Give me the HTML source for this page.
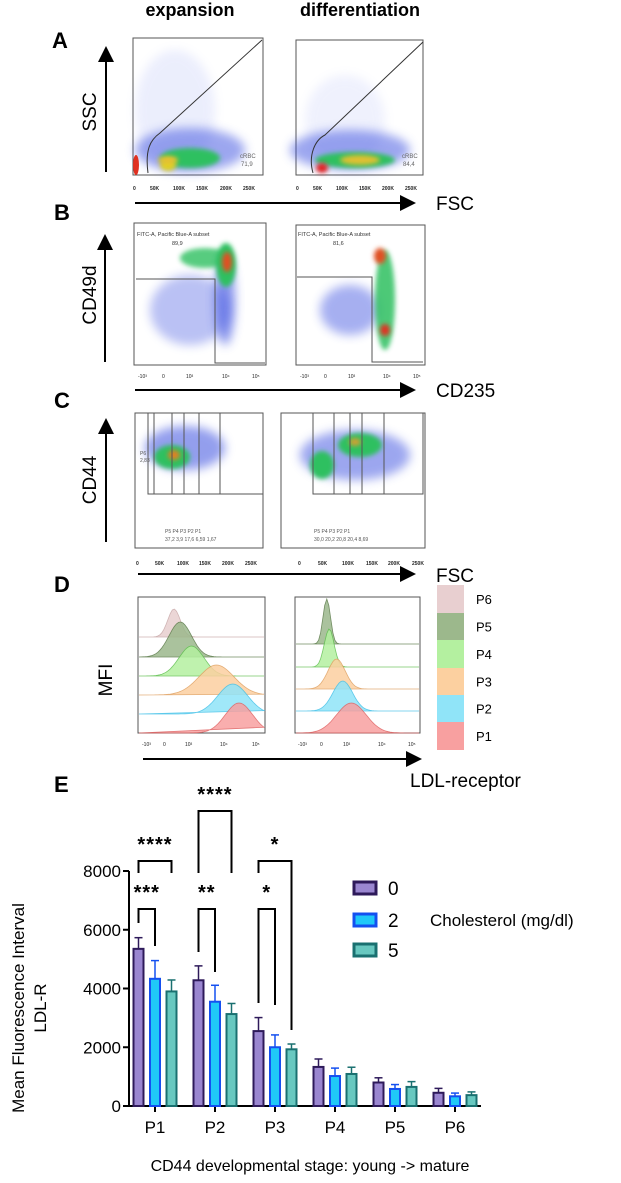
<!DOCTYPE html>
<html><head><meta charset="utf-8"><style>
html,body{margin:0;padding:0;background:#fff}
svg{display:block;font-family:"Liberation Sans",sans-serif}
</style></head><body>
<svg id="fig" width="621" height="1183" viewBox="0 0 621 1183">
<defs>
<filter id="bl" x="-50%" y="-50%" width="200%" height="200%"><feGaussianBlur stdDeviation="5"/></filter>
<filter id="bl2" x="-50%" y="-50%" width="200%" height="200%"><feGaussianBlur stdDeviation="2.5"/></filter>
<marker id="ah" markerWidth="8" markerHeight="8" refX="6" refY="4" orient="auto"><path d="M0,0 L8,4 L0,8z" fill="#000"/></marker>
</defs>
<g font-weight="bold" font-size="18">
<text x="190" y="16" text-anchor="middle">expansion</text>
<text x="360" y="16" text-anchor="middle">differentiation</text>
<text x="52" y="48" font-size="22">A</text>
<text x="54" y="220" font-size="22">B</text>
<text x="54" y="408" font-size="22">C</text>
<text x="54" y="592" font-size="22">D</text>
<text x="54" y="792" font-size="22">E</text>
</g>
<!-- Panel A -->
<g>
<text transform="translate(96,112) rotate(-90)" text-anchor="middle" font-size="19">SSC</text>
<line x1="106" y1="172" x2="106" y2="50" stroke="#000" stroke-width="2" marker-end="url(#ah)"/>
<line x1="135" y1="203" x2="412" y2="203" stroke="#000" stroke-width="2" marker-end="url(#ah)"/>
<text x="436" y="210" font-size="19">FSC</text>
<g>
<rect x="133" y="38" width="130" height="137" fill="#fff" stroke="#555"/>
<ellipse cx="175" cy="110" rx="40" ry="60" fill="#8090f0" opacity="0.15" filter="url(#bl)"/>
<ellipse cx="190" cy="150" rx="55" ry="22" fill="#3a50e0" opacity="0.5" filter="url(#bl)"/>
<ellipse cx="190" cy="158" rx="30" ry="10" fill="#2ec060" filter="url(#bl2)"/>
<ellipse cx="168" cy="165" rx="8" ry="6" fill="#e0d020" filter="url(#bl2)"/>
<ellipse cx="168" cy="160" rx="10" ry="4" fill="#e8c030" filter="url(#bl2)"/>
<ellipse cx="136" cy="165" rx="3" ry="10" fill="#e03020"/>
<path d="M148,173 C145,150 150,140 160,133 L262,40" fill="none" stroke="#333"/>
<text x="240" y="158" font-size="6" fill="#666">cRBC</text><text x="241" y="166" font-size="6" fill="#666">71,9</text>
</g>
<g>
<rect x="296" y="40" width="127" height="135" fill="#fff" stroke="#555"/>
<ellipse cx="345" cy="120" rx="40" ry="45" fill="#8090f0" opacity="0.12" filter="url(#bl)"/>
<ellipse cx="350" cy="150" rx="60" ry="20" fill="#3a50e0" opacity="0.5" filter="url(#bl)"/>
<ellipse cx="355" cy="160" rx="40" ry="8" fill="#2ec060" filter="url(#bl2)"/>
<ellipse cx="360" cy="160" rx="20" ry="5" fill="#e0c030" filter="url(#bl2)"/>
<ellipse cx="322" cy="168" rx="6" ry="5" fill="#e02020" filter="url(#bl2)"/>
<path d="M313,173 C308,155 315,140 325,135 L423,42" fill="none" stroke="#333"/>
<text x="402" y="158" font-size="6" fill="#666">cRBC</text><text x="403" y="166" font-size="6" fill="#666">84,4</text>
</g>
<g font-size="5" fill="#222" font-weight="bold">
<text x="133" y="190">0</text><text x="150" y="190">50K</text><text x="173" y="190">100K</text><text x="196" y="190">150K</text><text x="220" y="190">200K</text><text x="243" y="190">250K</text>
<text x="296" y="190">0</text><text x="313" y="190">50K</text><text x="336" y="190">100K</text><text x="359" y="190">150K</text><text x="382" y="190">200K</text><text x="405" y="190">250K</text>
</g>
</g>
<!-- Panel B -->
<g>
<text transform="translate(96,295) rotate(-90)" text-anchor="middle" font-size="19">CD49d</text>
<line x1="105" y1="362" x2="105" y2="238" stroke="#000" stroke-width="2" marker-end="url(#ah)"/>
<line x1="135" y1="390" x2="412" y2="390" stroke="#000" stroke-width="2" marker-end="url(#ah)"/>
<text x="436" y="397" font-size="19">CD235</text>
<g>
<rect x="134" y="223" width="132" height="142" fill="#fff" stroke="#555"/>
<ellipse cx="190" cy="310" rx="40" ry="35" fill="#3a50e0" opacity="0.35" filter="url(#bl)"/>
<ellipse cx="225" cy="300" rx="10" ry="45" fill="#3a50e0" opacity="0.6" filter="url(#bl)"/>
<ellipse cx="205" cy="258" rx="25" ry="10" fill="#2ec060" opacity="0.8" filter="url(#bl2)"/>
<ellipse cx="226" cy="265" rx="10" ry="22" fill="#2ec060" filter="url(#bl2)"/>
<ellipse cx="227" cy="262" rx="5" ry="10" fill="#e05020" filter="url(#bl2)"/>
<path d="M136,279 L215,279 L215,363 L265,363" fill="none" stroke="#555"/>
<text x="137" y="236" font-size="5.5" fill="#333">FITC-A, Pacific Blue-A subset</text><text x="172" y="245" font-size="5.5" fill="#333">89,9</text>
</g>
<g>
<rect x="296" y="225" width="129" height="140" fill="#fff" stroke="#555"/>
<ellipse cx="350" cy="310" rx="30" ry="25" fill="#3a50e0" opacity="0.45" filter="url(#bl)"/>
<ellipse cx="385" cy="300" rx="10" ry="50" fill="#2ec060" opacity="0.85" filter="url(#bl2)"/>
<ellipse cx="380" cy="256" rx="6" ry="8" fill="#e05020" filter="url(#bl2)"/>
<ellipse cx="385" cy="330" rx="5" ry="6" fill="#e03020" filter="url(#bl2)"/>
<path d="M297,277 L372,277 L372,362 L423,362" fill="none" stroke="#555"/>
<text x="298" y="236" font-size="5.5" fill="#333">FITC-A, Pacific Blue-A subset</text><text x="333" y="245" font-size="5.5" fill="#333">81,6</text>
</g>
<g font-size="5" fill="#222"><text x="138" y="378">-10³</text><text x="162" y="378">0</text><text x="186" y="378">10³</text><text x="222" y="378">10⁴</text><text x="252" y="378">10⁵</text>
<text x="300" y="378">-10³</text><text x="324" y="378">0</text><text x="348" y="378">10³</text><text x="383" y="378">10⁴</text><text x="413" y="378">10⁵</text></g>
</g>
<!-- Panel C -->
<g>
<text transform="translate(96,480) rotate(-90)" text-anchor="middle" font-size="19">CD44</text>
<line x1="106" y1="542" x2="106" y2="422" stroke="#000" stroke-width="2" marker-end="url(#ah)"/>
<line x1="138" y1="574" x2="412" y2="574" stroke="#000" stroke-width="2" marker-end="url(#ah)"/>
<text x="436" y="582" font-size="19">FSC</text>
<g>
<rect x="135" y="413" width="128" height="135" fill="#fff" stroke="#555"/>
<ellipse cx="185" cy="448" rx="40" ry="22" fill="#3a50e0" opacity="0.55" filter="url(#bl)"/>
<ellipse cx="172" cy="457" rx="18" ry="12" fill="#2ec060" filter="url(#bl2)"/>
<ellipse cx="174" cy="455" rx="6" ry="5" fill="#e08020" filter="url(#bl2)"/>
<path d="M148,413 V494 H263 M154,413 V494 M172,413 V494 M184,413 V494 M199,413 V494 M220,413 V494 M148,413 H263" fill="none" stroke="#555"/>
<text x="140" y="455" font-size="5" fill="#555">P6</text><text x="140" y="462" font-size="5" fill="#555">2,83</text>
<text x="165" y="533" font-size="5" fill="#555">P5  P4   P3    P2          P1</text>
<text x="165" y="541" font-size="5" fill="#555">37,2 3,9 17,6  6,59       1,67</text>
</g>
<g>
<rect x="281" y="413" width="144" height="135" fill="#fff" stroke="#555"/>
<ellipse cx="355" cy="455" rx="55" ry="25" fill="#3a50e0" opacity="0.5" filter="url(#bl)"/>
<ellipse cx="322" cy="465" rx="12" ry="14" fill="#2ec060" filter="url(#bl2)"/>
<ellipse cx="360" cy="445" rx="22" ry="12" fill="#2ec060" filter="url(#bl2)"/>
<ellipse cx="355" cy="442" rx="6" ry="4" fill="#d0a030" filter="url(#bl2)"/>
<path d="M313,413 V494 H423 V413 H313 M334,413 V494 M350,413 V494 M362,413 V494 M384,413 V494" fill="none" stroke="#555"/>
<text x="314" y="533" font-size="5" fill="#555">P5        P4     P3    P2          P1</text>
<text x="314" y="541" font-size="5" fill="#555">30,0     20,2  20,8  20,4        8,69</text>
</g>
<g font-size="5" fill="#222" font-weight="bold"><text x="136" y="565">0</text><text x="155" y="565">50K</text><text x="177" y="565">100K</text><text x="199" y="565">150K</text><text x="222" y="565">200K</text><text x="245" y="565">250K</text>
<text x="298" y="565">0</text><text x="318" y="565">50K</text><text x="342" y="565">100K</text><text x="366" y="565">150K</text><text x="388" y="565">200K</text><text x="412" y="565">250K</text></g>
</g>
<!-- Panel D -->
<g>
<text transform="translate(112,680) rotate(-90)" text-anchor="middle" font-size="19">MFI</text>
<line x1="143" y1="759" x2="418" y2="759" stroke="#000" stroke-width="2" marker-end="url(#ah)"/>
<text x="410" y="787" font-size="19">LDL-receptor</text>
<rect x="138" y="597" width="127" height="136" fill="#fff" stroke="#555"/>
<rect x="295" y="597" width="125" height="136" fill="#fff" stroke="#555"/>
<g id="hists"></g>
<g font-size="5" fill="#222"><text x="142" y="746">-10³</text><text x="163" y="746">0</text><text x="185" y="746">10³</text><text x="220" y="746">10⁴</text><text x="252" y="746">10⁵</text>
<text x="298" y="746">-10³</text><text x="320" y="746">0</text><text x="343" y="746">10³</text><text x="378" y="746">10⁴</text><text x="408" y="746">10⁵</text></g>
<g id="dleg"></g>
</g>
<!-- Panel E -->
<g id="chart">
<text transform="translate(24,1008) rotate(-90)" text-anchor="middle" font-size="17">Mean Fluorescence Interval</text>
<text transform="translate(46,1008) rotate(-90)" text-anchor="middle" font-size="17">LDL-R</text>
<text x="310" y="1171" text-anchor="middle" font-size="16">CD44 developmental stage: young -&gt; mature</text>
<text x="430" y="926" font-size="17">Cholesterol (mg/dl)</text>
</g>
</svg>
<script>
const NS='http://www.w3.org/2000/svg';
function mk(p,t,a){const e=document.createElementNS(NS,t);for(const k in a)e.setAttribute(k,a[k]);p.appendChild(e);return e;}
const hLabels=['P6','P5','P4','P3','P2','P1'];
const hFill=['#e8cfd0','#9cb88c','#b4f0a0','#fcd0a0','#90e4f8','#f8a0a0'];
const hStroke=['#c8a8a8','#5a7a48','#60c050','#e0a060','#40c0e8','#e06060'];
const leftPeaks=[0.28,0.33,0.42,0.62,0.75,0.8];
const leftWidth=[0.05,0.09,0.1,0.14,0.12,0.11];
const rightPeaks=[0.25,0.25,0.27,0.33,0.38,0.45];
const rightWidth=[0.03,0.03,0.04,0.07,0.08,0.12];
const hg=document.getElementById('hists');
function hist(x0,w,base,pk,sd,h,fill,stroke){
  let d=`M${x0},${base}`;
  for(let i=0;i<=60;i++){const t=i/60;const y=base-h*Math.exp(-Math.pow((t-pk)/sd,2)/2);d+=` L${(x0+t*w).toFixed(1)},${y.toFixed(1)}`;}
  return mk(hg,'path',{d:d+'Z',fill:fill,stroke:stroke,'stroke-width':0.8,opacity:0.85});
}
const lBase=[637,657,676,695,714,733],rBase=[644,644,667,689,711,733];
for(let i=0;i<6;i++){
  const a=hist(139,125,lBase[i],leftPeaks[i],leftWidth[i],i==0?28:i==1?35:30,hFill[i],hStroke[i]);
  
  
  if(i>0){const b=hist(296,123,rBase[i],rightPeaks[i],rightWidth[i],i==1?45:i==2?38:30,hFill[i],hStroke[i]);
  
  }
}
const dl=document.getElementById('dleg');
const legTop=[585,613,640,668,695,722],legH=[28,27,28,27,27,28];
for(let i=0;i<6;i++){
  const r=mk(dl,'rect',{x:437,y:legTop[i],width:27,height:legH[i],fill:hFill[i]});
  
  
  const t=mk(dl,'text',{x:476,y:legTop[i]+legH[i]/2+5,'font-size':13});t.textContent=hLabels[i];
  
  
}
// bar chart data
const categories=['P1','P2','P3','P4','P5','P6'];
const seriesNames=['0','2','5'];
const values0=[5350,4280,2550,1330,800,450];
const values2=[4330,3550,2000,1020,580,330];
const values5=[3900,3130,1930,1090,650,370];
const errors0=[380,490,460,270,160,150];
const errors2=[620,560,420,270,150,110];
const errors5=[390,360,180,230,180,110];
const yTicks=[0,2000,4000,6000,8000];
const series=[values0,values2,values5],errs=[errors0,errors2,errors5];
const fills=['#9a86d0','#20c8f8','#68c8c0'],strokes=['#2e1a5a','#1450f0','#1a7070'];
const g=document.getElementById('chart');
const x0=129,x1=481,yZero=1106,yTop=871;
const yS=v=>yZero-(v/8000)*(yZero-yTop);
const grp=i=>155+i*60;
const off=[-16.5,0,16.5];
mk(g,'line',{x1:x0,y1:yTop,x2:x0,y2:yZero,stroke:'#000','stroke-width':2});
mk(g,'line',{x1:x0,y1:yZero,x2:x1,y2:yZero,stroke:'#000','stroke-width':2});
yTicks.forEach(v=>{mk(g,'line',{x1:x0-6,y1:yS(v),x2:x0,y2:yS(v),stroke:'#000','stroke-width':2});
 const t=mk(g,'text',{x:x0-8,y:yS(v)+6,'text-anchor':'end','font-size':17});t.textContent=v;
 
 });
categories.forEach((c,i)=>{const cx=grp(i);
 mk(g,'line',{x1:cx,y1:yZero,x2:cx,y2:yZero+6,stroke:'#000','stroke-width':2});
 const t=mk(g,'text',{x:cx,y:yZero+27,'text-anchor':'middle','font-size':17});t.textContent=c;
 
 
 series.forEach((s,j)=>{const bx=cx+off[j]-5;
  const top=yS(s[i]);const e=yS(s[i]+errs[j][i]);
  mk(g,'line',{x1:cx+off[j],y1:top,x2:cx+off[j],y2:e,stroke:strokes[j],'stroke-width':1.5});
  mk(g,'line',{x1:cx+off[j]-4,y1:e,x2:cx+off[j]+4,y2:e,stroke:strokes[j],'stroke-width':1.5});
  const r=mk(g,'rect',{x:bx,y:top,width:10,height:yZero-top,fill:fills[j],stroke:strokes[j],'stroke-width':2});
  
  
 });
});
// significance annotations
const sigGroups=[0,0,1,1,2,2];
const sigFrom=[0,0,0,0,0,0];
const sigTo=[2,1,2,1,2,1];
const sigLabels=['****','***','****','**','*','*'];
const sigY=[861,909,811,909,861,909];
const sigLegA=[873,923,873,952,873,1003];
const sigLegB=[873,946,873,972,1030,1005];
function bracket(k){
 const gi=sigGroups[k];const xa=grp(gi)+off[sigFrom[k]],xb=grp(gi)+off[sigTo[k]];
 const y=sigY[k];
 const p=mk(g,'path',{d:`M${xa},${sigLegA[k]} V${y} H${xb} V${sigLegB[k]}`,fill:'none',stroke:'#000','stroke-width':2});
 
 
 const t=mk(g,'text',{x:(xa+xb)/2,y:y-10,'text-anchor':'middle','font-size':20,'font-weight':'bold','letter-spacing':'1'});t.textContent=sigLabels[k];
 
 
}
for(let k=0;k<6;k++)bracket(k);
const legY=[888,920,950];
seriesNames.forEach((n,j)=>{const r=mk(g,'rect',{x:354,y:legY[j]-6,width:22,height:12,fill:fills[j],stroke:strokes[j],'stroke-width':3});
 
 
 const t=mk(g,'text',{x:388,y:legY[j]+7,'font-size':19});t.textContent=n;
 
 });
</script>
</body></html>
